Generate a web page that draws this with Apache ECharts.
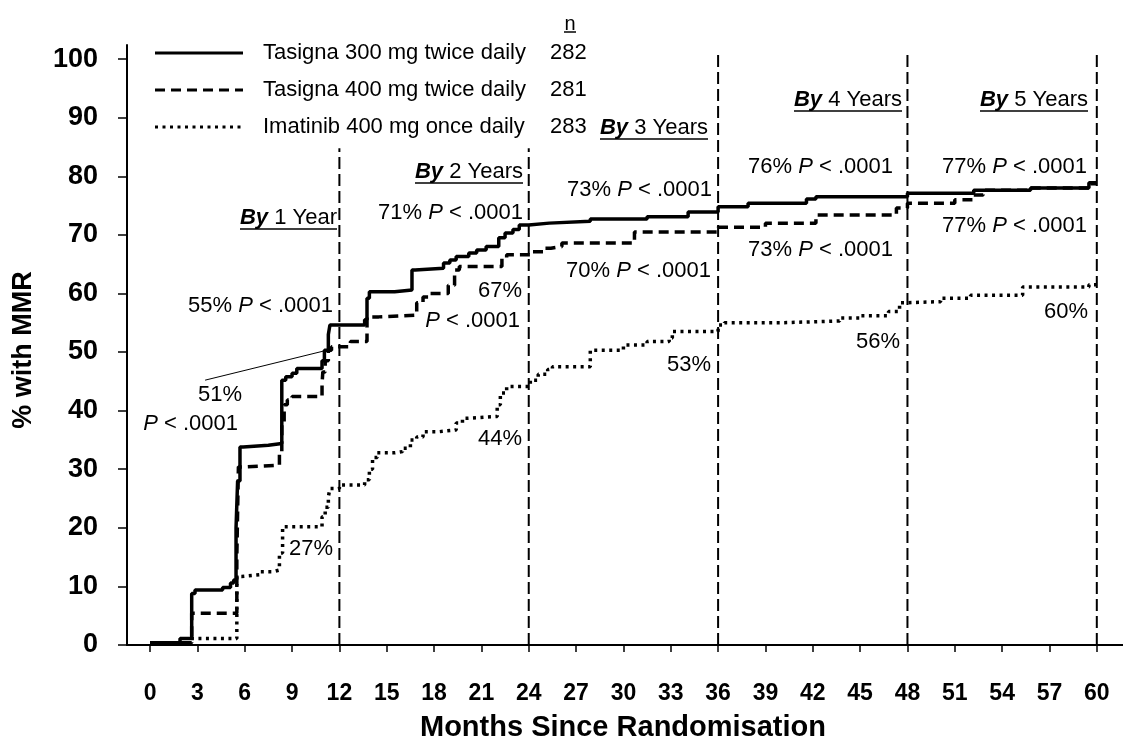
<!DOCTYPE html>
<html>
<head>
<meta charset="utf-8">
<script src="https://cdn.jsdelivr.net/npm/echarts@6/dist/echarts.min.js"></script>
<style>
html,body{margin:0;padding:0;background:#fff;}
#c{width:1123px;height:744px;}
</style>
</head>
<body>
<div id="c"></div>
<script>
// ---------- DATA ----------
const seriesNames = ['Tasigna 300 mg twice daily', 'Tasigna 400 mg twice daily', 'Imatinib 400 mg once daily'];
const seriesN = ['282', '281', '283'];
const xTicks = [0,3,6,9,12,15,18,21,24,27,30,33,36,39,42,45,48,51,54,57,60];
const yTicks = [0,10,20,30,40,50,60,70,80,90,100];

// cumulative % with MMR, change points [month, %]
const tasigna300 = [[0,0.4],[1.9,1.1],[2.64,8.8],[2.85,9.4],[4.6,9.8],[5.1,10.6],[5.3,11.1],[5.45,20],[5.55,28],[5.7,33.8],[5.9,34.1],[7.5,34.4],[8.35,45.2],[8.6,45.8],[9.0,46.4],[9.3,47.2],[10.9,48.5],[11.05,50.3],[11.3,53],[11.4,54.6],[13.6,55.5],[13.75,59.2],[13.9,60.3],[15.5,60.6],[16.6,64.0],[16.8,64.3],[18.6,65.2],[19.0,65.7],[19.4,66.3],[20.2,66.9],[20.7,67.4],[21.3,68.0],[22.1,69.5],[22.5,70.3],[23.0,70.9],[23.4,71.7],[24,72.0],[25.3,72.3],[27.9,72.7],[31.5,73.1],[34.1,73.9],[36.0,74.8],[37.9,75.4],[41.6,76.1],[42.2,76.5],[48,77.1],[52.2,77.6],[55.8,78.0],[59.5,78.9],[60,78.9]];
const tasigna400 = [[0,0.4],[2.64,5.4],[5.5,15],[5.6,30.4],[6.1,30.7],[8.2,32.8],[8.35,38],[8.5,41.0],[8.7,41.8],[9.0,42.4],[10.9,44.5],[10.95,46.6],[11.1,48.5],[11.3,50.3],[11.5,50.9],[12.7,51.8],[13.75,56.0],[14.5,56.3],[16.9,58.4],[17.3,59.4],[17.7,60.0],[18.9,61.4],[19.3,64.0],[19.6,64.6],[22.3,66.0],[22.6,66.6],[24.1,67.1],[25.0,67.7],[25.4,68.0],[26.1,68.6],[30.7,70.5],[36,71.3],[39,72.0],[42.2,73.4],[47.3,74.6],[48,75.4],[51,76.0],[52.2,76.8],[52.8,77.6],[55.8,78.0],[59.5,78.7],[60,78.7]];
const imatinib400 = [[0,0.4],[2.64,1.1],[5.5,11.7],[5.8,12.0],[7.0,12.5],[7.8,12.8],[8.2,15.7],[8.4,20.2],[10.9,21.9],[11.1,23.5],[11.3,25.3],[11.4,26.7],[12,27.3],[13.6,28.2],[13.9,30],[14.1,32],[14.4,32.8],[15.5,33.0],[16.0,33.6],[16.5,35.0],[16.9,35.5],[17.3,36.4],[18.3,36.7],[19.4,37.9],[19.8,38.7],[20.1,39.0],[22.0,41],[22.2,43.0],[22.6,44.1],[24.1,45.2],[24.6,46.2],[25.2,47.0],[25.5,47.5],[27.9,50.3],[30,51.2],[31.5,51.8],[32.9,52.4],[33.1,53.5],[36,54.6],[36.4,55.0],[40,55.3],[43.7,55.8],[45,56.2],[46.8,56.9],[47.5,58.4],[47.8,58.6],[50.1,59.2],[52,59.7],[55.3,61.1],[59.5,61.5],[60,61.5]];

// yearly landmark lines: month and top of the drawn line (%)
const landmarkMonths = [12, 24, 36, 48, 60];
const landmarkTops = [84.8, 84.8, 100.7, 100.7, 101];
const landmarkTitles = ['1 Year', '2 Years', '3 Years', '4 Years', '5 Years'];
// leader line from "51%" label to curve
const leader = [[3.49, 45.2], [11.2, 50.3]];

// annotation texts
const annoTexts = ['55% {i|P} < .0001', '51%', '{i|P} < .0001', '71% {i|P} < .0001', '67%', '{i|P} < .0001', '27%', '44%',
  '73% {i|P} < .0001', '70% {i|P} < .0001', '53%', '76% {i|P} < .0001', '73% {i|P} < .0001', '56%',
  '77% {i|P} < .0001', '77% {i|P} < .0001', '60%'];

// ---------- LAYOUT (pixels) ----------
const FONT = "'Liberation Sans', Arial, Helvetica, sans-serif";
const annoPos = [[333,306],[242,395],[238,424],[523,213],[522,291],[520,321],[333,549],[522,439],
  [712,190],[711,271],[711,365],[893,167],[893,250],[900,342],[1087,167],[1087,226],[1088,312]];
const byPos = [[337,218],[523,172],[708,128],[902,100],[1088,100]];
const legendRowsY = [53, 90, 127];

const mctx = document.createElement('canvas').getContext('2d');
function measure(font, t){ mctx.font = font; return mctx.measureText(t).width; }

const chart = echarts.init(document.getElementById('c'), null, {renderer:'canvas'});

const lineStyles = [
  {color:'#000', width:3.5, type:'solid'},
  {color:'#000', width:3.5, type:[10,6]},
  {color:'#000', width:3.5, type:[3,4.5]}
];
const curveData = [tasigna300, tasigna400, imatinib400];

const series = [];
landmarkMonths.forEach((m, i) => {
  series.push({type:'line', data:[[m,0],[m,landmarkTops[i]]], symbol:'none', silent:true,
    lineStyle:{color:'#000', width:2, type:[12,5]}, z:1});
});
series.push({type:'line', data:leader, symbol:'none', silent:true, lineStyle:{color:'#000', width:1}, z:1});
curveData.forEach((d, i) => {
  series.push({type:'line', name:seriesNames[i], data:d, step:'end', symbol:'none', silent:true,
    lineStyle:lineStyles[i], z:3});
});

const graphic = [];
// annotation texts
annoTexts.forEach((t, i) => {
  graphic.push({type:'text', x:annoPos[i][0], y:annoPos[i][1], silent:true,
    style:{text:t, font:'22px ' + FONT, fill:'#000', align:'right', verticalAlign:'middle',
      rich:{i:{fontStyle:'italic', fontSize:22, fontFamily:FONT}}}});
});
// "By N Years" labels with underline
landmarkTitles.forEach((t, i) => {
  const [rx, cy] = byPos[i];
  const w = measure('italic bold 22px ' + FONT, 'By') + measure('22px ' + FONT, ' ' + t);
  graphic.push({type:'text', x:rx, y:cy, silent:true,
    style:{text:'{b|By} ' + t, font:'22px ' + FONT, fill:'#000', align:'right', verticalAlign:'middle',
      rich:{b:{fontStyle:'italic', fontWeight:'bold', fontSize:22, fontFamily:FONT}}}});
  graphic.push({type:'line', silent:true, shape:{x1:rx - w, y1:cy + 11, x2:rx, y2:cy + 11},
    style:{stroke:'#000', lineWidth:1.5}});
});
// legend
const dashArr = [null, [10,6], [3,4.5]];
legendRowsY.forEach((y, i) => {
  graphic.push({type:'line', silent:true, shape:{x1:155, y1:y, x2:243, y2:y},
    style:{stroke:'#000', lineWidth:3, lineDash:dashArr[i]}});
  graphic.push({type:'text', x:263, y:y, silent:true,
    style:{text:seriesNames[i], font:'22px ' + FONT, fill:'#000', verticalAlign:'middle'}});
  graphic.push({type:'text', x:550, y:y, silent:true,
    style:{text:seriesN[i], font:'22px ' + FONT, fill:'#000', verticalAlign:'middle'}});
});
graphic.push({type:'text', x:570, y:24, silent:true,
  style:{text:'n', font:'20px ' + FONT, fill:'#000', align:'center', verticalAlign:'middle'}});
graphic.push({type:'line', silent:true, shape:{x1:564, y1:32, x2:576, y2:32}, style:{stroke:'#000', lineWidth:1.5}});
// axis titles
graphic.push({type:'text', x:623, y:728, silent:true,
  style:{text:'Months Since Randomisation', font:'bold 29px ' + FONT, fill:'#000', align:'center', verticalAlign:'middle'}});
graphic.push({type:'text', x:24, y:350, rotation:Math.PI/2, silent:true,
  style:{text:'% with MMR', font:'bold 27px ' + FONT, fill:'#000', align:'center', verticalAlign:'middle'}});

chart.setOption({
  animation:false,
  backgroundColor:'#fff',
  grid:{left:127, right:0, top:45, bottom:99, containLabel:false},
  xAxis:{type:'value', min:-1.46, max:61.66,
    axisLine:{show:true, onZero:false, lineStyle:{color:'#000', width:2}},
    axisTick:{show:true, customValues:xTicks, length:7, lineStyle:{color:'#000', width:1.5}},
    axisLabel:{customValues:xTicks, color:'#000', fontSize:23, fontWeight:'bold', fontFamily:FONT, margin:37},
    splitLine:{show:false}},
  yAxis:{type:'value', min:0, max:102.4,
    axisLine:{show:true, onZero:false, lineStyle:{color:'#000', width:2}},
    axisTick:{show:true, customValues:yTicks, length:9, lineStyle:{color:'#000', width:1.5}},
    axisLabel:{customValues:yTicks, color:'#000', fontSize:27, fontWeight:'bold', fontFamily:FONT, margin:29},
    splitLine:{show:false}},
  series:series,
  graphic:graphic
});
</script>
</body>
</html>
